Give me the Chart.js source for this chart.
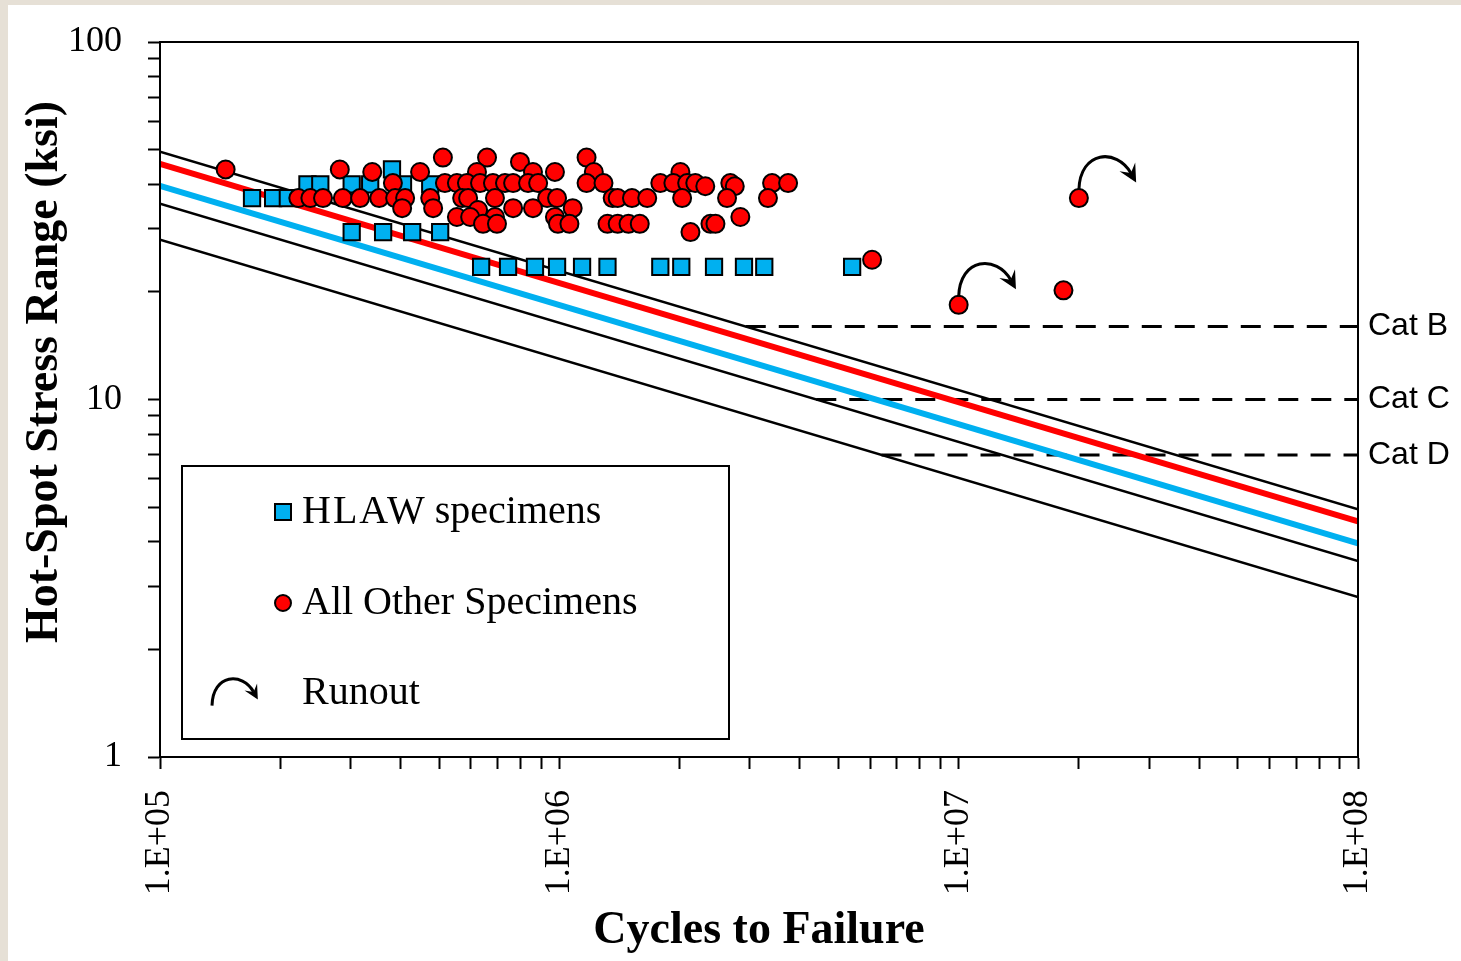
<!DOCTYPE html>
<html>
<head>
<meta charset="utf-8">
<script src="https://cdn.jsdelivr.net/npm/chart.js@4.4.1/dist/chart.umd.min.js"></script>
<style>
  html, body { margin: 0; padding: 0; background: #e6e0d6; }
  canvas { display: block; }
</style>
</head>
<body>
<canvas id="sn-chart" width="1461" height="961"></canvas>
<script>
// HLAW specimens: cycles to failure and hot-spot stress range (ksi)
var hlawCycles = [
    1.70e5, 1.92e5, 2.09e5,
    2.34e5, 2.52e5, 3.02e5, 3.36e5, 4.06e5, 4.75e5,
    3.81e5,
    3.02e5, 3.62e5, 4.28e5, 5.03e5,
    6.37e5, 7.44e5, 8.69e5, 9.87e5, 1.14e6, 1.32e6, 1.79e6, 2.02e6, 2.44e6, 2.90e6, 3.26e6, 5.41e6
];
var hlawStress = [
    36.6, 36.6, 36.6,
    40, 40, 40, 40, 40, 40,
    44,
    29.4, 29.4, 29.4, 29.4,
    23.5, 23.5, 23.5, 23.5, 23.5, 23.5, 23.5, 23.5, 23.5, 23.5, 23.5, 23.5
];

// all other specimens (failures)
var otherCycles = [
    5.11e5, 6.59e5, 1.17e6,
    7.97e5,
    1.46e5, 2.82e5,
    3.40e5, 4.48e5, 6.22e5, 8.59e5, 9.75e5, 1.22e6, 2.01e6,
    3.83e5, 5.17e5, 5.54e5, 5.87e5, 6.33e5, 6.82e5, 7.31e5, 7.66e5, 8.35e5, 8.85e5,
    1.17e6, 1.29e6, 1.79e6, 1.93e6, 2.09e6, 2.19e6, 2.68e6, 3.41e6, 3.74e6,
    2.32e6, 2.75e6,
    2.22e5, 2.38e5, 2.56e5, 2.87e5, 3.17e5, 3.54e5, 3.88e5, 4.11e5, 4.75e5, 5.71e5,
    5.91e5, 6.90e5, 9.32e5, 9.87e5, 1.36e6, 1.40e6, 1.52e6, 1.66e6, 2.03e6, 2.63e6, 3.33e6,
    4.04e5, 4.83e5, 7.66e5, 8.59e5, 1.08e6,
    6.26e5,
    5.54e5, 5.98e5, 6.90e5, 9.75e5, 2.84e6,
    6.44e5, 6.98e5, 9.92e5, 1.06e6, 1.32e6, 1.40e6, 1.49e6, 1.59e6, 2.39e6, 2.46e6,
    2.13e6,
    6.07e6, 1.83e7
];
var otherStress = [
    47.5, 47.5, 47.5,
    46.2,
    44, 44,
    43.3, 43.3, 43.3, 43.3, 43.3, 43.3, 43.3,
    40.3, 40.3, 40.3, 40.3, 40.3, 40.3, 40.3, 40.3, 40.3, 40.3,
    40.3, 40.3, 40.3, 40.3, 40.3, 40.3, 40.3, 40.3, 40.3,
    39.5, 39.5,
    36.6, 36.6, 36.6, 36.6, 36.6, 36.6, 36.6, 36.6, 36.6, 36.6,
    36.6, 36.6, 36.6, 36.6, 36.6, 36.6, 36.6, 36.6, 36.6, 36.6, 36.6,
    34.3, 34.3, 34.3, 34.3, 34.3,
    33.9,
    32.4, 32.4, 32.4, 32.4, 32.4,
    31.0, 31.0, 31.0, 31.0, 31.0, 31.0, 31.0, 31.0, 31.0, 31.0,
    29.4,
    24.6, 20.2
];

// runouts (test stopped without failure)
var runoutCycles = [1.0e7, 2.0e7];
var runoutStress = [18.4, 36.6];

// S-N lines, stress at 1E+05 and 1E+08 cycles
var lineCycles = [1e5, 1e8];
var catBLine = [49.3, 4.93];
var catCLine = [35.3, 3.53];
var catDLine = [28.0, 2.80];
var meanLine = [45.6, 4.56];
var designLine = [39.6, 3.96];

// constant amplitude fatigue thresholds
var catLabels = ['Cat B', 'Cat C', 'Cat D'];
var cafl = [16, 10, 7];
var caflStart = [2.93e6, 4.4e6, 6.41e6];

// axis ticks
var xDecades = [1e5, 1e6, 1e7, 1e8];
var xTickLabels = ['1.E+05', '1.E+06', '1.E+07', '1.E+08'];
var yDecades = [1, 10, 100];
var yTickLabels = ['1', '10', '100'];

function toPoints(xs, ys) {
    return xs.map(function (x, i) { return {x: x, y: ys[i]}; });
}

function logTicks(decades) {
    var ticks = [];
    for (var i = 0; i < decades.length - 1; i++) {
        for (var m = 1; m < 10; m++) {
            ticks.push({value: decades[i] * m});
        }
    }
    ticks.push({value: decades[decades.length - 1]});
    return ticks;
}

// curved runout arrow starting on top of a marker at (cx, cy)
function drawArrow(ctx, cx, cy, s) {
    var x0 = cx, y0 = cy - 8 * s;
    var c1x = cx + 1 * s, c1y = cy - 48 * s;
    var c2x = cx + 38 * s, c2y = cy - 50 * s;
    var x1 = cx + 52 * s, y1 = cy - 25 * s;
    ctx.save();
    ctx.strokeStyle = '#000';
    ctx.fillStyle = '#000';
    ctx.lineWidth = 3;
    ctx.beginPath();
    ctx.moveTo(x0, y0);
    ctx.bezierCurveTo(c1x, c1y, c2x, c2y, x1, y1);
    ctx.stroke();
    var a = Math.atan2(y1 - c2y, x1 - c2x);
    var len = 18 * s, w = 9 * s;
    var tx = x1 + Math.cos(a) * len * 0.6, ty = y1 + Math.sin(a) * len * 0.6;
    ctx.beginPath();
    ctx.moveTo(tx, ty);
    ctx.lineTo(tx - Math.cos(a) * len - Math.sin(a) * w, ty - Math.sin(a) * len + Math.cos(a) * w);
    ctx.lineTo(tx - Math.cos(a) * len * 0.6, ty - Math.sin(a) * len * 0.6);
    ctx.lineTo(tx - Math.cos(a) * len + Math.sin(a) * w, ty - Math.sin(a) * len - Math.cos(a) * w);
    ctx.closePath();
    ctx.fill();
    ctx.restore();
}

const background = {
    id: 'background',
    beforeDraw(chart) {
        const ctx = chart.ctx;
        ctx.save();
        ctx.fillStyle = '#e6e0d6';
        ctx.fillRect(0, 0, chart.width, chart.height);
        ctx.fillStyle = '#ffffff';
        ctx.fillRect(8, 5, chart.width - 8, chart.height - 5);
        ctx.restore();
    }
};

const extras = {
    id: 'extras',
    afterDraw(chart) {
        const ctx = chart.ctx;
        const area = chart.chartArea;
        const xs = chart.scales.x;
        const ys = chart.scales.y;
        ctx.save();

        // plot frame
        ctx.strokeStyle = '#000';
        ctx.lineWidth = 2;
        ctx.strokeRect(area.left, area.top, area.right - area.left, area.bottom - area.top);

        // category labels at the right edge
        ctx.fillStyle = '#000';
        ctx.font = '32px "Liberation Sans"';
        ctx.textAlign = 'left';
        ctx.textBaseline = 'middle';
        catLabels.forEach(function (label, i) {
            ctx.fillText(label, area.right + 10, ys.getPixelForValue(cafl[i]));
        });

        // runout arrows
        runoutCycles.forEach(function (n, i) {
            drawArrow(ctx, xs.getPixelForValue(n), ys.getPixelForValue(runoutStress[i]), 1);
        });

        // legend box
        ctx.fillStyle = '#fff';
        ctx.fillRect(182, 466, 547, 273);
        ctx.strokeStyle = '#000';
        ctx.lineWidth = 2;
        ctx.strokeRect(182, 466, 547, 273);

        ctx.fillStyle = '#00b0f0';
        ctx.fillRect(275, 504, 16, 16);
        ctx.strokeRect(275, 504, 16, 16);

        ctx.fillStyle = '#ff0000';
        ctx.beginPath();
        ctx.arc(283, 603, 8, 0, Math.PI * 2);
        ctx.fill();
        ctx.stroke();

        drawArrow(ctx, 212, 712, 0.8);

        ctx.fillStyle = '#000';
        ctx.font = '40px "Liberation Serif"';
        ctx.textAlign = 'left';
        ctx.textBaseline = 'middle';
        ctx.letterSpacing = '2px';
        ctx.fillText('HLAW', 302, 512);
        ctx.letterSpacing = '0px';
        ctx.fillText('specimens', 302 + ctx.measureText('HLAW ').width + 6, 512);
        ctx.fillText('All Other Specimens', 302, 603);
        ctx.fillText('Runout', 302, 693);

        // y axis title
        ctx.translate(45, 372);
        ctx.rotate(-Math.PI / 2);
        ctx.font = 'bold 46px "Liberation Serif"';
        ctx.textAlign = 'center';
        ctx.fillText('Hot-Spot Stress Range (ksi)', 0, 0);
        ctx.restore();
    }
};

function slopeLine(label, values, color, width, order) {
    return {
        label: label,
        data: toPoints(lineCycles, values),
        showLine: true,
        borderColor: color,
        borderWidth: width,
        pointRadius: 0,
        order: order
    };
}

function caflLine(i) {
    return {
        label: catLabels[i],
        data: toPoints([caflStart[i], 1e8], [cafl[i], cafl[i]]),
        showLine: true,
        borderColor: '#000',
        borderWidth: 3,
        borderDash: [20, 13],
        pointRadius: 0,
        order: 5
    };
}

const snChart = document.getElementById('sn-chart');

var fatigueChart = new Chart(snChart, {
    type: 'scatter',
    data: {
        datasets: [
            {
                label: 'All Other Specimens',
                data: toPoints(otherCycles.concat(runoutCycles), otherStress.concat(runoutStress)),
                pointStyle: 'circle',
                pointRadius: 9,
                backgroundColor: '#ff0000',
                borderColor: '#000',
                borderWidth: 2,
                order: 0
            },
            {
                label: 'HLAW specimens',
                data: toPoints(hlawCycles, hlawStress),
                pointStyle: 'rect',
                pointRadius: 11.5,
                backgroundColor: '#00b0f0',
                borderColor: '#000',
                borderWidth: 2,
                order: 1
            },
            slopeLine('Cat B', catBLine, '#000', 2.5, 4),
            slopeLine('Cat C', catCLine, '#000', 2.5, 4),
            slopeLine('Cat D', catDLine, '#000', 2.5, 4),
            slopeLine('Mean', meanLine, '#ff0000', 6, 3),
            slopeLine('Design', designLine, '#00b0f0', 6, 3),
            caflLine(0),
            caflLine(1),
            caflLine(2)
        ]
    },
    options: {
        responsive: false,
        animation: false,
        layout: {
            autoPadding: false,
            padding: {left: 0, top: 42, right: 103, bottom: 0}
        },
        plugins: {
            legend: {display: false},
            tooltip: {enabled: false}
        },
        scales: {
            x: {
                type: 'logarithmic',
                min: 1e5,
                max: 1e8,
                afterBuildTicks: function (scale) { scale.ticks = logTicks(xDecades); },
                afterFit: function (scale) {
                    scale.height = 204;
                    scale.paddingLeft = 0;
                    scale.paddingRight = 0;
                },
                border: {color: '#000', width: 2},
                grid: {
                    drawOnChartArea: false,
                    tickLength: 12,
                    tickWidth: 2,
                    tickColor: '#000'
                },
                ticks: {
                    autoSkip: false,
                    minRotation: 90,
                    maxRotation: 90,
                    padding: 21,
                    color: '#000',
                    font: {family: 'Liberation Serif', size: 36},
                    callback: function (value) {
                        var i = xDecades.indexOf(value);
                        return i < 0 ? '' : xTickLabels[i];
                    }
                },
                title: {
                    display: true,
                    text: 'Cycles to Failure',
                    color: '#000',
                    font: {family: 'Liberation Serif', size: 46, weight: 'bold'},
                    padding: {top: 0, bottom: 2}
                }
            },
            y: {
                type: 'logarithmic',
                min: 1,
                max: 100,
                afterBuildTicks: function (scale) { scale.ticks = logTicks(yDecades); },
                afterFit: function (scale) {
                    scale.width = 160;
                    scale.paddingTop = 0;
                    scale.paddingBottom = 0;
                },
                border: {color: '#000', width: 2},
                grid: {
                    drawOnChartArea: false,
                    tickLength: 12,
                    tickWidth: 2,
                    tickColor: '#000'
                },
                ticks: {
                    autoSkip: false,
                    padding: 26,
                    color: '#000',
                    font: {family: 'Liberation Serif', size: 36},
                    callback: function (value) {
                        var i = yDecades.indexOf(value);
                        return i < 0 ? '' : yTickLabels[i];
                    }
                }
            }
        }
    },
    plugins: [background, extras]
});
</script>
</body>
</html>
